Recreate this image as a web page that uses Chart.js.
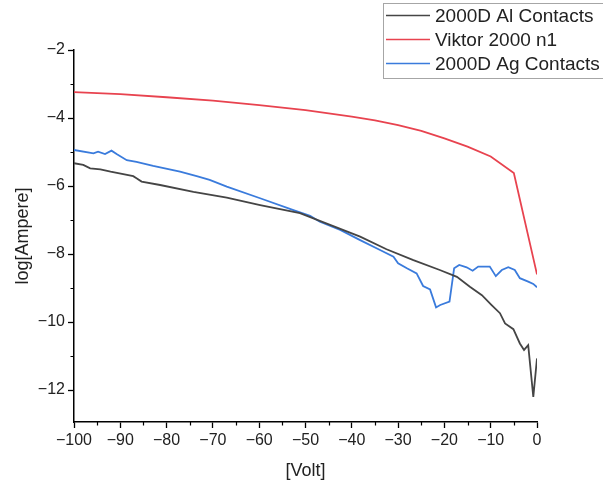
<!DOCTYPE html>
<html>
<head>
<meta charset="utf-8">
<script src="https://cdn.jsdelivr.net/npm/chart.js@4"></script>
<style>
  html, body { margin: 0; padding: 0; background: #fff; }
  #wrap { width: 603px; height: 488px; position: relative; }
</style>
</head>
<body>
<div id="wrap"><canvas id="c" width="603" height="488"></canvas></div>
<script>
// I–V sweeps: voltage (V) against log10 of the current (A)
const alVolt = [-100, -98, -96.5, -94.3, -92.1, -87.2, -86.5, -85.4, -81.4, -74.2, -67, -59.8, -51.2, -44, -38.2, -32.5, -26.7, -21, -17.3, -14.5, -11.9, -9.8, -8, -6.9, -5.1, -3.7, -2.8, -1.9, -0.8, 0];
const alLogI = [-5.33, -5.38, -5.48, -5.51, -5.58, -5.71, -5.77, -5.87, -5.97, -6.17, -6.34, -6.56, -6.80, -7.18, -7.49, -7.86, -8.18, -8.47, -8.67, -8.96, -9.21, -9.50, -9.74, -10.04, -10.21, -10.63, -10.82, -10.68, -12.20, -11.07];

const viktorVolt = [-100, -90, -80, -70, -60, -50, -40, -35, -30, -25, -20, -15, -10, -5, 0];
const viktorLogI = [-3.24, -3.30, -3.39, -3.49, -3.62, -3.77, -3.96, -4.07, -4.21, -4.38, -4.60, -4.84, -5.13, -5.62, -8.60];

const agVolt = [-100, -95.8, -94.8, -93.3, -91.9, -90.8, -88.6, -86.5, -82.9, -77.1, -73.5, -70.7, -67, -59.8, -52.6, -49, -46.9, -42.5, -38.2, -33.9, -31, -30, -28.1, -26, -24.6, -23.1, -21.8, -20.9, -18.9, -17.9, -16.8, -15.2, -13.9, -12.7, -10.2, -8.9, -7.6, -6.2, -4.8, -3.7, -1.9, -0.8, 0];
const agLogI = [-4.94, -5.04, -4.99, -5.06, -4.96, -5.06, -5.24, -5.29, -5.41, -5.58, -5.71, -5.82, -6.02, -6.36, -6.71, -6.88, -7.05, -7.29, -7.59, -7.88, -8.08, -8.27, -8.42, -8.57, -8.94, -9.04, -9.57, -9.50, -9.40, -8.42, -8.32, -8.39, -8.49, -8.37, -8.37, -8.65, -8.47, -8.39, -8.47, -8.71, -8.81, -8.88, -8.98];

const xMajorTicks = [-100, -90, -80, -70, -60, -50, -40, -30, -20, -10, 0];
const xMinorTicks = [-95, -85, -75, -65, -55, -45, -35, -25, -15, -5];
const yMajorTicks = [-12, -10, -8, -6, -4, -2];
const yMinorTicks = [-11, -9, -7, -5, -3];

const pairs = (xs, ys) => xs.map((x, i) => ({ x: x, y: ys[i] }));
const minus = v => String(v).replace('-', '\u2212');

const FONT = "'Liberation Sans', Arial, sans-serif";
const TEXT = '#222';

// short outward minor ticks on both axes
const minorTicks = {
  id: 'minorTicks',
  afterDraw(chart) {
    const { ctx, chartArea: a, scales: { x, y } } = chart;
    ctx.save();
    ctx.strokeStyle = '#000';
    ctx.lineWidth = 1.2;
    ctx.beginPath();
    xMinorTicks.forEach(v => {
      const px = Math.round(x.getPixelForValue(v)) + 0.5;
      ctx.moveTo(px, a.bottom); ctx.lineTo(px, a.bottom + 3.5);
    });
    yMinorTicks.forEach(v => {
      const py = Math.round(y.getPixelForValue(v)) + 0.5;
      ctx.moveTo(a.left, py); ctx.lineTo(a.left - 3.5, py);
    });
    ctx.stroke();
    ctx.restore();
  }
};

// framed legend in the upper-right corner
const boxLegend = {
  id: 'boxLegend',
  afterDraw(chart) {
    const ctx = chart.ctx;
    const left = 383.5, top = 3.5, rowH = 24;
    ctx.save();
    ctx.fillStyle = '#fff';
    ctx.fillRect(left, top, 230, 75);
    ctx.strokeStyle = '#a6a6a6';
    ctx.lineWidth = 1;
    ctx.strokeRect(left, top, 230, 75);
    ctx.font = '19px ' + FONT;
    ctx.textBaseline = 'middle';
    chart.data.datasets.forEach((ds, i) => {
      const cy = top + 12 + i * rowH;
      ctx.strokeStyle = ds.borderColor;
      ctx.lineWidth = 1.5;
      ctx.beginPath();
      ctx.moveTo(386, cy); ctx.lineTo(430, cy);
      ctx.stroke();
      ctx.fillStyle = TEXT;
      ctx.fillText(ds.label, 435, cy + 1);
    });
    ctx.restore();
  }
};

new Chart(document.getElementById('c'), {
  type: 'scatter',
  data: {
    datasets: [
      { label: '2000D Al Contacts', data: pairs(alVolt, alLogI), borderColor: '#454545', borderWidth: 1.8 },
      { label: 'Viktor 2000 n1', data: pairs(viktorVolt, viktorLogI), borderColor: '#e8434f', borderWidth: 1.8 },
      { label: '2000D Ag Contacts', data: pairs(agVolt, agLogI), borderColor: '#3a7bdc', borderWidth: 1.8 }
    ].map(d => Object.assign(d, { showLine: true, pointRadius: 0, pointHoverRadius: 0, tension: 0, fill: false }))
  },
  options: {
    responsive: false,
    animation: false,
    events: [],
    layout: { padding: { top: 50, right: 66, left: 0, bottom: 0 } },
    plugins: { legend: { display: false }, tooltip: { enabled: false } },
    scales: {
      x: {
        type: 'linear',
        min: -100, max: 0,
        afterFit(s) { s.height = 66; },
        afterBuildTicks(s) { s.ticks = xMajorTicks.map(v => ({ value: v })); },
        border: { display: true, color: '#000', width: 1.5 },
        grid: { drawOnChartArea: false, drawTicks: true, tickLength: 6, tickColor: '#000', tickWidth: 1.3 },
        ticks: { color: TEXT, font: { family: FONT, size: 16 }, padding: 3, maxRotation: 0, autoSkip: false, callback: v => minus(v) },
        title: { display: true, text: '[Volt]', color: TEXT, font: { family: FONT, size: 18 }, padding: { top: 2, bottom: 6 } }
      },
      y: {
        type: 'linear',
        min: -12.94, max: -2,
        afterFit(s) { s.width = 74; },
        afterBuildTicks(s) { s.ticks = yMajorTicks.map(v => ({ value: v })); },
        border: { display: true, color: '#000', width: 1.5 },
        grid: { drawOnChartArea: false, drawTicks: true, tickLength: 6, tickColor: '#000', tickWidth: 1.3 },
        ticks: { color: TEXT, font: { family: FONT, size: 16 }, padding: 3, autoSkip: false, callback: v => minus(v) },
        title: { display: true, text: 'log[Ampere]', color: TEXT, font: { family: FONT, size: 18 }, padding: { top: 12, bottom: 0 } }
      }
    }
  },
  plugins: [minorTicks, boxLegend]
});
</script>
</body>
</html>
